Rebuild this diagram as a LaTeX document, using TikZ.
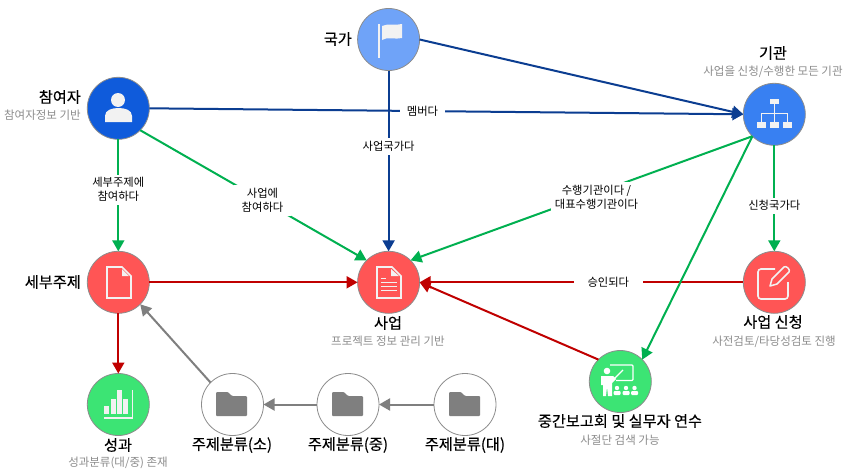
\documentclass[tikz,border=0pt]{standalone}
\usepackage{fontspec}
\setmainfont{Noto Sans CJK KR}
\newfontfamily\ttlfont[FakeBold=0.35]{Noto Sans CJK KR}
\usetikzlibrary{arrows.meta}
\definecolor{cblueA}{HTML}{0F5BDB}
\definecolor{cblueB}{HTML}{6FA3F8}
\definecolor{cblueC}{HTML}{3880F2}
\definecolor{cred}{HTML}{FF5555}
\definecolor{cgreen}{HTML}{3CE474}
\definecolor{lnavy}{HTML}{0B3D91}
\definecolor{lgreen}{HTML}{00B050}
\definecolor{lred}{HTML}{C00000}
\definecolor{lgray}{HTML}{7F7F7F}
\definecolor{icon}{HTML}{F2F2F2}
\definecolor{subt}{HTML}{8C8C8C}
\tikzset{
  circ/.style={circle,minimum size=62pt,inner sep=0pt,outer sep=0pt,draw=lgray!90,line width=.8pt,fill=#1},
  ttl/.style={font=\ttlfont\fontsize{15.2}{18}\selectfont,text=black,inner sep=0pt},
  sbt/.style={font=\fontsize{11.5}{13}\selectfont,text=subt,inner sep=0pt},
  lab/.style={font=\fontsize{11.3}{14}\selectfont,text=black,fill=white,align=center,inner xsep=#1,inner ysep=3pt},
  lab/.default=5pt,
  edge navy/.style={draw=lnavy,line width=2pt},
  edge green/.style={draw=lgreen,line width=2pt},
  edge red/.style={draw=lred,line width=2pt},
  edge gray/.style={draw=lgray,line width=2pt},
  tip/.style={-{Triangle[length=11pt,width=12pt]}},
}
\newcommand{\folderIcon}[2]{%
  \fill[lgray,rounded corners=1pt,shift={(#1,#2)}] (-16,-12) -- (-4,-12) -- (0,-8) -- (15,-8) -- (15,12) -- (-16,12) -- cycle;}
\begin{document}
\begin{tikzpicture}[x=1pt,y=-1pt]
\fill[white] (0,0) rectangle (846,474);
\useasboundingbox (0,0) rectangle (846,474);

% nodes
\node[circ=cblueA] (part) at (118.3,108.3) {};
\node[circ=cblueB] (nat) at (388.6,39.5) {};
\node[circ=cblueC] (org) at (774.3,114.3) {};
\node[circ=cred] (sub) at (118.3,282.3) {};
\node[circ=cred] (proj) at (388.6,282.3) {};
\node[circ=cred] (appl) at (774.3,282.3) {};
\node[circ=cgreen] (res) at (118.3,404.5) {};
\node[circ=white] (cs) at (232.5,404.5) {};
\node[circ=white] (cm) at (348,404.5) {};
\node[circ=white] (cl) at (465,404.5) {};
\node[circ=cgreen] (meet) at (620.3,381.5) {};

% labels of nodes
\node[ttl,anchor=east] (tpart) at (81,97) {참여자};
\node[sbt,anchor=east] (spart) at (81,115) {참여자정보 기반};
\node[ttl,anchor=east] (tnat) at (352,39) {국가};
\node[ttl] (torg) at (773,53) {기관};
\node[sbt] (sorg) at (773,72) {사업을 신청/수행한 모든 기관};
\node[ttl,anchor=east] (tsub) at (81,282) {세부주제};
\node[ttl] (tproj) at (388,323) {사업};
\node[sbt] (sproj) at (388,341) {프로젝트 정보 관리 기반};
\node[ttl] (tappl) at (773,322) {사업 신청};
\node[sbt] (sappl) at (774,342) {사전검토/타당성검토 진행};
\node[ttl] (tres) at (118,445) {성과};
\node[sbt] (sres) at (118,463) {성과분류(대/중) 존재};
\node[ttl] (tcs) at (232,445) {주제분류(소)};
\node[ttl] (tcm) at (348,445) {주제분류(중)};
\node[ttl] (tcl) at (465,445) {주제분류(대)};
\node[ttl] (tmeet) at (620,421) {중간보고회 및 실무자 연수};
\node[sbt] (smeet) at (620,440) {사절단 검색 가능};

% connectors
\draw[edge red,tip] (sub) -- (proj);
\draw[edge red,tip] (appl) -- node[lab=14pt,pos=.417] (l7) {승인되다} (proj);
\draw[edge red,tip] (meet.135) -- (proj.east);
\draw[edge red,tip] (sub) -- (res);
\draw[edge gray,tip] (cs.135) -- (sub.-45);
\draw[edge gray,tip] (cm) -- (cs);
\draw[edge gray,tip] (cl) -- (cm);
\draw[edge green,tip] (part) -- node[lab=3pt,pos=.45] (l1) {세부주제에\\참여하다} (sub);
\draw[edge green,tip] (part.-45) -- node[lab=8pt,pos=.54] (l2) {사업에\\참여하다} (proj.135);
\draw[edge green,tip] (org.225) -- node[lab=4pt,pos=.456,yshift=-4pt] (l3) {수행기관이다 /\\대표수행기관이다} (proj.45);
\draw[edge green,tip] (org.225) -- (meet.45);
\draw[edge green,tip] (org) -- node[lab=3pt,pos=.57] (l4) {신청국가다} (appl);
\draw[edge navy,tip] (part.east) -- node[lab=7pt,pos=.46] (l5) {멤버다} (org.west);
\draw[edge navy,tip] (nat) -- node[lab=3pt,pos=.42] (l6) {사업국가다} (proj);
\draw[edge navy,tip] (nat.east) -- (org.west);

% icon: person
\fill[icon] (118,100) circle (7);
\fill[icon] (105,122) -- (105,116) .. controls (105,110) and (112,108) .. (118.5,108) .. controls (125,108) and (132,110) .. (132,116) -- (132,122) -- cycle;
% icon: flag
\fill[icon] (378,24) rectangle (380,58);
\fill[icon] (382,26) .. controls (388,23) and (395,26) .. (402,24) -- (402,38) .. controls (395,40) and (388,36) .. (382,40) -- cycle;
% icon: organisation
\fill[icon] (770,99) rectangle (779,104);
\fill[icon] (757,122) rectangle (766,128);
\fill[icon] (770,122) rectangle (779,128);
\fill[icon] (783,122) rectangle (792,128);
\draw[icon,line width=.8pt] (774.5,104) -- (774.5,122) (761.5,122) -- (761.5,113) -- (787.5,113) -- (787.5,122);
% icon: page
\draw[icon,line width=1.6pt] (107,267) -- (122,267) -- (131,276) -- (131,298) -- (107,298) -- cycle;
\fill[icon] (122,269) -- (129,276) -- (122,276) -- cycle;
% icon: document with lines
\draw[icon,line width=1.6pt] (377,267) -- (392,267) -- (401,276) -- (401,298) -- (377,298) -- cycle;
\fill[icon] (391,269) -- (399,276) -- (391,276) -- cycle;
\draw[icon,line width=1.2pt] (381,278.5) -- (386,278.5) (381,282.5) -- (397,282.5) (381,286.5) -- (397,286.5) (381,290.5) -- (397,290.5);
% icon: edit
\draw[white!95!black,line width=1.6pt,rounded corners=3pt] (775,269) -- (758,269) -- (758,299) -- (788,299) -- (788,282);
\draw[white!95!black,line width=1.5pt,line join=round] (770,286) -- (772,279) -- (784,267) .. controls (786,265) and (791,270) .. (789,272) -- (777,284) -- cycle;
% icon: chart
\fill[icon] (104,406) rectangle (109,414);
\fill[icon] (111,399) rectangle (116,414);
\fill[icon] (117,390) rectangle (122,414);
\fill[icon] (123,399) rectangle (128,414);
\draw[icon,line width=1.4pt] (104,418) -- (132.5,418) -- (132.5,390);
% icon: folders
\folderIcon{232}{404}
\folderIcon{348}{404}
\folderIcon{465}{404}
% icon: presentation
\draw[white,line width=1.3pt,rounded corners=1pt] (610,365) -- (633,365) -- (633,380.5) -- (616,380.5);
\draw[white,line width=1.2pt] (612,381) -- (623,370);
\fill[white] (607,371) circle (3.3);
\fill[white] (601,376) -- (613,376) -- (616,379) -- (612,383) -- (612,396) -- (608,396) -- (607,387) -- (606,396) -- (603,396) -- (603,385) -- (601,385) -- cycle;
\fill[white] (617,388) circle (2.2) (626,388) circle (2.2) (634.5,388) circle (2.2);
\fill[white,rounded corners=1pt] (613.5,395) -- (613.5,391) -- (620.5,391) -- (620.5,395) -- cycle;
\fill[white,rounded corners=1pt] (622.5,395) -- (622.5,391) -- (629.5,391) -- (629.5,395) -- cycle;
\fill[white,rounded corners=1pt] (631,395) -- (631,391) -- (638,391) -- (638,395) -- cycle;
\end{tikzpicture}
\end{document}
